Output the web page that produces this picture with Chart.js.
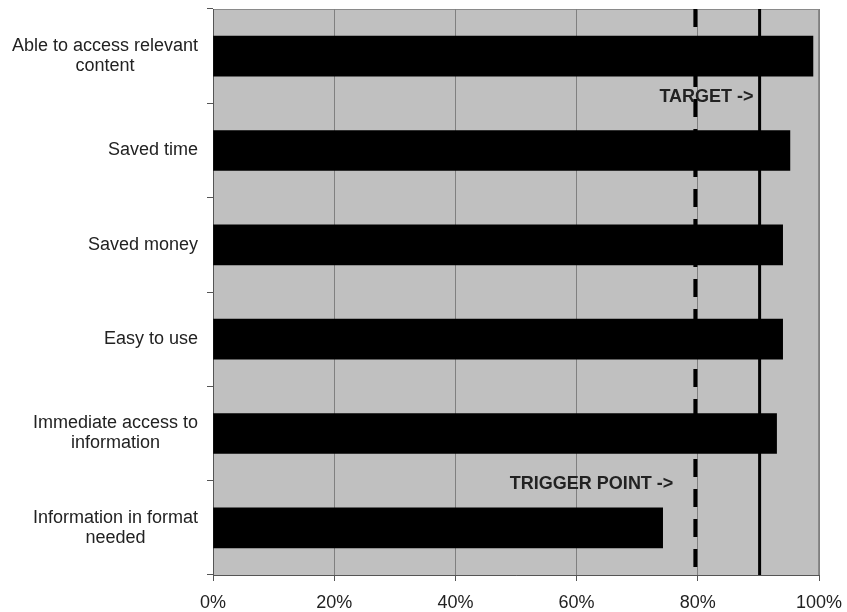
<!DOCTYPE html>
<html lang="en">
<head>
    <meta charset="UTF-8">
    <title>Benefits vs target</title>
    <script src="https://cdn.jsdelivr.net/npm/chart.js"></script>
    <style>
        html, body {
            margin: 0;
            padding: 0;
            background: #ffffff;
        }

        .chart-wrap {
            position: relative;
            width: 847px;
            height: 612px;
        }
    </style>
</head>
<body>
    <div class="chart-wrap">
        <canvas id="benefitChart"></canvas>
    </div>

    <script>
        // Categories (top to bottom) and share of respondents agreeing
        const categories = [
            ['Able to access relevant', 'content'],
            ['Saved time'],
            ['Saved money'],
            ['Easy to use'],
            ['Immediate access to', 'information'],
            ['Information in format', 'needed']
        ];
        const percentages = [99.0, 95.2, 94.0, 94.0, 93.0, 74.2];
        const xTicks = [0, 20, 40, 60, 80, 100];

        // Reference levels
        const triggerLevel = 79.6;
        const targetLevel = 90.2;

        const LABEL_FONT = '18px "Liberation Sans", Arial, sans-serif';
        const NOTE_FONT = 'bold 18px "Liberation Sans", Arial, sans-serif';
        const TEXT_COLOR = '#222222';

        // Grey plot background with a thin frame
        const plotBackground = {
            id: 'plotBackground',
            beforeDraw(chart) {
                const { ctx, chartArea: a } = chart;
                ctx.save();
                ctx.fillStyle = '#c0c0c0';
                ctx.fillRect(a.left, a.top, a.right - a.left, a.bottom - a.top);
                ctx.strokeStyle = '#8a8a8a';
                ctx.lineWidth = 1;
                ctx.strokeRect(a.left + 0.5, a.top + 0.5, a.right - a.left - 1, a.bottom - a.top);
                ctx.restore();
            }
        };

        // Trigger (dashed) and target (solid) vertical lines plus their notes
        const levelLines = {
            id: 'levelLines',
            beforeDatasetsDraw(chart) {
                const { ctx, chartArea: a, scales } = chart;
                const x = scales.x;
                ctx.save();
                ctx.strokeStyle = '#000000';

                ctx.lineWidth = 4;
                ctx.setLineDash([18, 12]);
                const xt = x.getPixelForValue(triggerLevel);
                ctx.beginPath();
                ctx.moveTo(xt, a.top);
                ctx.lineTo(xt, a.bottom);
                ctx.stroke();

                ctx.lineWidth = 3;
                ctx.setLineDash([]);
                const xg = x.getPixelForValue(targetLevel);
                ctx.beginPath();
                ctx.moveTo(xg, a.top);
                ctx.lineTo(xg, a.bottom);
                ctx.stroke();
                ctx.restore();
            },
            afterDatasetsDraw(chart) {
                const { ctx, scales } = chart;
                const x = scales.x, y = scales.y;
                const between = i => (y.getPixelForValue(i) + y.getPixelForValue(i + 1)) / 2;
                ctx.save();
                ctx.font = NOTE_FONT;
                ctx.fillStyle = TEXT_COLOR;
                ctx.textAlign = 'right';
                ctx.textBaseline = 'middle';
                ctx.fillText('TARGET ->', x.getPixelForValue(targetLevel) - 6, between(0) - 6);
                ctx.fillText('TRIGGER POINT ->', x.getPixelForValue(triggerLevel) - 22, between(4) + 3);
                ctx.restore();
            }
        };

        // Category labels: block right-aligned to the axis, lines centred within it
        const categoryLabels = {
            id: 'categoryLabels',
            afterDraw(chart) {
                const { ctx, scales } = chart;
                const y = scales.y;
                const rightEdge = y.right - 15;
                const lineHeight = 20;
                ctx.save();
                ctx.font = LABEL_FONT;
                ctx.fillStyle = TEXT_COLOR;
                ctx.textAlign = 'center';
                ctx.textBaseline = 'middle';
                categories.forEach((lines, i) => {
                    const w = Math.max(...lines.map(l => ctx.measureText(l).width));
                    const cx = rightEdge - w / 2;
                    const cy = y.getPixelForValue(i);
                    lines.forEach((line, k) => {
                        const off = (k - (lines.length - 1) / 2) * lineHeight;
                        ctx.fillText(line, cx, cy + off);
                    });
                });
                ctx.restore();
            }
        };

        const ctx = document.getElementById('benefitChart').getContext('2d');
        new Chart(ctx, {
            type: 'bar',
            data: {
                labels: categories.map(c => c.join(' ')),
                datasets: [{
                    data: percentages,
                    backgroundColor: '#000000',
                    borderWidth: 0,
                    barThickness: 40
                }]
            },
            options: {
                indexAxis: 'y',
                responsive: true,
                maintainAspectRatio: false,
                animation: false,
                layout: {
                    padding: { top: 9, right: 28, left: 0, bottom: 0 }
                },
                plugins: {
                    legend: { display: false },
                    tooltip: { enabled: false }
                },
                scales: {
                    x: {
                        min: 0,
                        max: 100,
                        afterBuildTicks(scale) {
                            scale.ticks = xTicks.map(v => ({ value: v }));
                        },
                        afterFit(scale) {
                            scale.height = 37;
                            scale.paddingLeft = 0;
                            scale.paddingRight = 0;
                        },
                        grid: {
                            color: '#808080',
                            lineWidth: 1,
                            tickLength: 6,
                            tickColor: '#555555'
                        },
                        border: { color: '#555555', width: 1 },
                        ticks: {
                            color: TEXT_COLOR,
                            font: { family: '"Liberation Sans", Arial, sans-serif', size: 18 },
                            padding: 11,
                            callback: v => v + '%'
                        }
                    },
                    y: {
                        afterFit(scale) {
                            scale.width = 213;
                        },
                        grid: {
                            drawOnChartArea: false,
                            offset: true,
                            tickLength: 6,
                            tickColor: '#555555'
                        },
                        border: { color: '#555555', width: 1 },
                        ticks: { display: false }
                    }
                }
            },
            plugins: [plotBackground, levelLines, categoryLabels]
        });
    </script>
</body>
</html>
